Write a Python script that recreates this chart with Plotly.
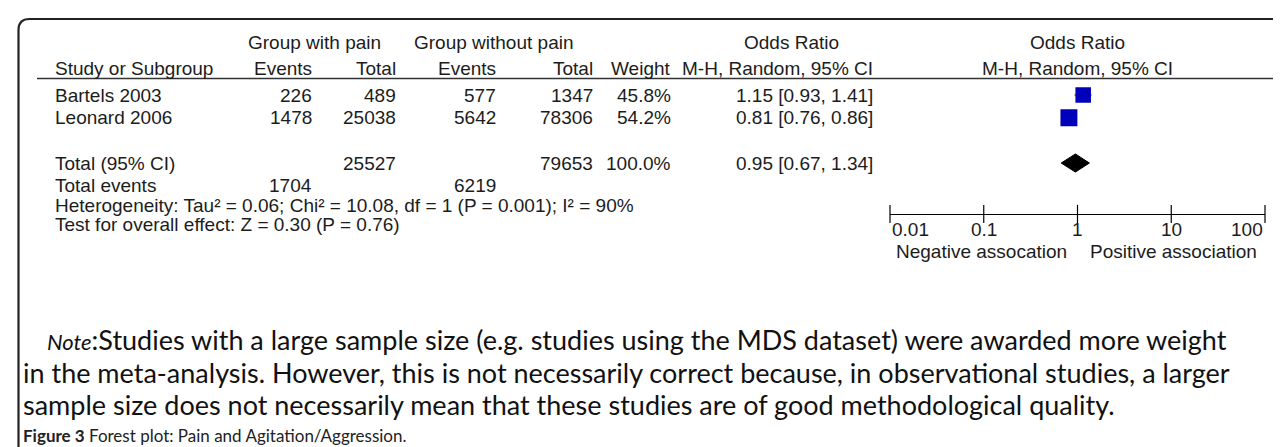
import math
import plotly.graph_objects as go

W, H = 1281, 447

# ---------------- data ----------------
studies = ["Bartels 2003", "Leonard 2006"]
pain_events = [226, 1478]
pain_total = [489, 25038]
nopain_events = [577, 5642]
nopain_total = [1347, 78306]
weights = [45.8, 54.2]
or_est = [1.15, 0.81]
ci_low = [0.93, 0.76]
ci_high = [1.41, 0.86]

total_label = "Total (95% CI)"
total_pain = 25527
total_nopain = 79653
total_weight = 100.0
total_or = 0.95
total_lo = 0.67
total_hi = 1.34
total_events_pain = 1704
total_events_nopain = 6219
heterogeneity_text = "Heterogeneity: Tau² = 0.06; Chi² = 10.08, df = 1 (P = 0.001); I² = 90%"
overall_text = "Test for overall effect: Z = 0.30 (P = 0.76)"

tick_vals = [0.01, 0.1, 1, 10, 100]
tick_labels = ["0.01", "0.1", "1", "10", "100"]
left_label = "Negative assocation"
right_label = "Positive association"

note_lines = [
    "<span style='font-size:22px'><i>Note</i></span>:Studies with a large sample size (e.g. studies using the MDS dataset) were awarded more weight",
    "in the meta-analysis. However, this is not necessarily correct because, in observational studies, a larger",
    "sample size does not necessarily mean that these studies are of good methodological quality.",
]
caption_bold = "Figure 3"
caption_text = "Forest plot: Pain and Agitation/Aggression."

# ---------------- layout helpers ----------------
def px(x):
    return x / W

def py(y):
    return 1 - y / H

TFONT = "Liberation Sans, Arial, sans-serif"
TSIZE = 19
TCOL = "#1c1c1c"
NFONT = "Lato, sans-serif"
NSIZE = 27

study_rows = list(range(len(studies)))
total_row = 3
ROW_TOP, ROW_BOTTOM = -0.73, 5.25

annotations = []

def ann(text, x, y, xanchor="left", yref="paper", size=TSIZE, family=TFONT, color=TCOL):
    annotations.append(dict(
        text=text, x=px(x), y=(py(y) if yref == "paper" else y),
        xref="paper", yref=yref, xanchor=xanchor, yanchor="middle",
        showarrow=False, font=dict(family=family, size=size, color=color)))

# header
ann("Group with pain", 306, 34, "center")
ann("Group without pain", 486, 34, "center")
ann("Odds Ratio", 783, 34, "center")
ann("Odds Ratio", 1069, 34, "center")
ann("Study or Subgroup", 45, 60)
ann("Events", 306, 60, "right")
ann("Total", 390, 60, "right")
ann("Events", 490, 60, "right")
ann("Total", 587, 60, "right")
ann("Weight", 665, 60, "right")
ann("M-H, Random, 95% CI", 867, 60, "right")
ann("M-H, Random, 95% CI", 1069, 60, "center")

# study rows
for i, r in enumerate(study_rows):
    ann(studies[i], 45, r, yref="y")
    ann(str(pain_events[i]), 306, r, "right", yref="y")
    ann(str(pain_total[i]), 390, r, "right", yref="y")
    ann(str(nopain_events[i]), 490, r, "right", yref="y")
    ann(str(nopain_total[i]), 587, r, "right", yref="y")
    ann(f"{weights[i]:.1f}%", 665, r, "right", yref="y")
    ann(f"{or_est[i]:.2f} [{ci_low[i]:.2f}, {ci_high[i]:.2f}]", 867, r, "right", yref="y")

# total
ann(total_label, 45, total_row, yref="y")
ann(str(total_pain), 390, total_row, "right", yref="y")
ann(str(total_nopain), 587, total_row, "right", yref="y")
ann(f"{total_weight:.1f}%", 665, total_row, "right", yref="y")
ann(f"{total_or:.2f} [{total_lo:.2f}, {total_hi:.2f}]", 867, total_row, "right", yref="y")
ann("Total events", 45, 177)
ann(str(total_events_pain), 306, 177, "right")
ann(str(total_events_nopain), 490, 177, "right")
ann(heterogeneity_text, 45, 197)
ann(overall_text, 45, 216)

# axis tick labels (placed on the x axis scale)
for v, lab in zip(tick_vals, tick_labels):
    xa = "left" if v == tick_vals[0] else ("right" if v == tick_vals[-1] else "center")
    annotations.append(dict(text=lab, x=math.log10(v), xref="x", y=py(222), yref="paper",
                            xanchor=xa, yanchor="middle", showarrow=False,
                            font=dict(family=TFONT, size=TSIZE, color=TCOL)))
annotations.append(dict(text=left_label, x=math.log10(1), xref="x", xshift=-9, y=py(243), yref="paper",
                        xanchor="right", yanchor="middle", showarrow=False,
                        font=dict(family=TFONT, size=TSIZE, color=TCOL)))
annotations.append(dict(text=right_label, x=math.log10(1), xref="x", xshift=10, y=py(243), yref="paper",
                        xanchor="left", yanchor="middle", showarrow=False,
                        font=dict(family=TFONT, size=TSIZE, color=TCOL)))

# note
ann(note_lines[0], 37, 331, size=NSIZE, family=NFONT, color="#111111")
ann(note_lines[1], 13, 364, size=NSIZE, family=NFONT, color="#111111")
ann(note_lines[2], 13, 396, size=NSIZE, family=NFONT, color="#111111")
ann(f"<b>{caption_bold}</b> {caption_text}", 13, 427, size=17, family=NFONT, color="#222222")

# ---------------- traces ----------------
fig = go.Figure()

ci_x, ci_y = [], []
for r, lo, hi in zip(study_rows, ci_low, ci_high):
    ci_x += [lo, hi, None]
    ci_y += [r, r, None]
fig.add_trace(go.Scatter(x=ci_x, y=ci_y, mode="lines", line=dict(color="black", width=1),
                         hoverinfo="skip"))

fig.add_trace(go.Scatter(
    x=or_est, y=study_rows, mode="markers",
    marker=dict(symbol="square", color="#0000bb", opacity=1,
                size=[23 * math.sqrt(w / 100) for w in weights], line=dict(width=0))))

dh = 0.40
fig.add_trace(go.Scatter(
    x=[total_lo, total_or, total_hi, total_or, total_lo],
    y=[total_row, total_row - dh, total_row, total_row + dh, total_row],
    mode="lines", fill="toself", fillcolor="black", line=dict(color="black", width=1)))

fig.add_trace(go.Scatter(
    x=tick_vals, y=[ROW_BOTTOM] * len(tick_vals), mode="markers", cliponaxis=False,
    marker=dict(symbol="line-ns-open", size=13, color="black", opacity=1,
                line=dict(color="black", width=1.2))))

# ---------------- shapes ----------------
shapes = []
r = 11
fx, fy = 10.5, 11
path = (f"M {px(fx)},{py(H + 5)} L {px(fx)},{py(fy + r)} "
        f"Q {px(fx)},{py(fy)} {px(fx + r)},{py(fy)} L {px(W + 5)},{py(fy)}")
shapes.append(dict(type="path", path=path, xref="paper", yref="paper",
                   line=dict(color="#222222", width=2.2)))
shapes.append(dict(type="line", xref="paper", yref="paper", x0=px(29), x1=px(1275),
                   y0=py(70.5), y1=py(70.5), line=dict(color="#333333", width=1.4)))
shapes.append(dict(type="line", xref="x", yref="y domain", x0=0, x1=0, y0=0, y1=1,
                   line=dict(color="black", width=1)))

fig.update_layout(
    width=W, height=H, margin=dict(l=0, r=0, t=0, b=0),
    paper_bgcolor="white", plot_bgcolor="white", showlegend=False,
    xaxis=dict(type="log", range=[-2, 2], domain=[px(882), px(1257)],
               showgrid=False, zeroline=False, showticklabels=False, ticks="",
               showline=True, linecolor="black", linewidth=1, fixedrange=True),
    yaxis=dict(range=[ROW_BOTTOM, ROW_TOP], domain=[py(206), py(70.5)],
               visible=False, fixedrange=True),
    annotations=annotations, shapes=shapes,
)

fig.write_html("out.html")
